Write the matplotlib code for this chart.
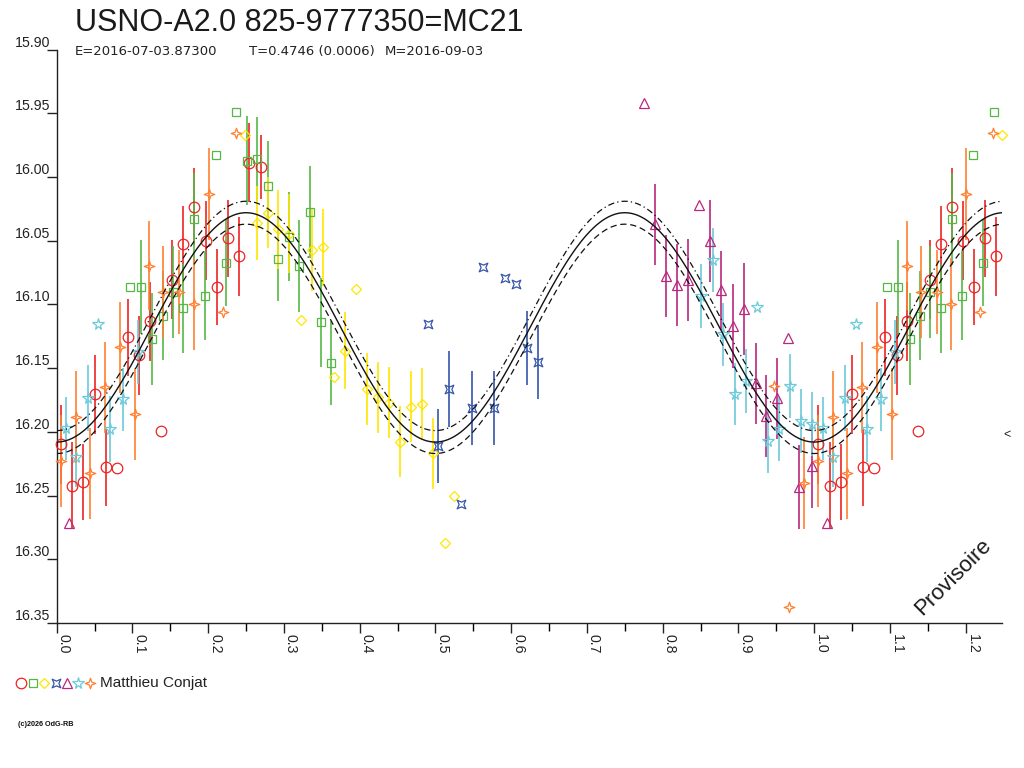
import numpy as np
import matplotlib
matplotlib.use('Agg')
import matplotlib.pyplot as plt
from matplotlib.path import Path
from matplotlib.ticker import MultipleLocator, FixedLocator

plt.rcParams['font.family'] = ['Liberation Sans', 'DejaVu Sans']

title = "USNO-A2.0 825-9777350=MC21"
subtitle_parts = ["E=2016-07-03.87300", "T=0.4746 (0.0006)", "M=2016-09-03"]
observer = "Matthieu Conjat"
watermark = "Provisoire"
copyright_txt = "(c)2026 OdG-RB"

# fitted light-curve model (double wave)
mag_mean = 16.118
amplitude = 0.090
band = 0.009

y_ticks = [15.90, 15.95, 16.00, 16.05, 16.10, 16.15, 16.20, 16.25, 16.30, 16.35]
y_ticklabels = ["15.90", "15.95", "16.00", "16.05", "16.10", "16.15", "16.20", "16.25", "16.30", "16.35"]
x_ticks = [0.0, 0.1, 0.2, 0.3, 0.4, 0.5, 0.6, 0.7, 0.8, 0.9, 1.0, 1.1, 1.2]
x_ticklabels = ["0.0", "0.1", "0.2", "0.3", "0.4", "0.5", "0.6", "0.7", "0.8", "0.9", "1.0", "1.1", "1.2"]

red_phase = [0.0057, 0.0206, 0.0351, 0.0506, 0.0647, 0.0792, 0.0937, 0.1090, 0.1232, 0.1377,
             0.1526, 0.1671, 0.1817, 0.1967, 0.2112, 0.2257, 0.2407, 0.2543, 0.2697]
red_mag = [16.2096, 16.2423, 16.2392, 16.1703, 16.2279, 16.2282, 16.1258, 16.1397, 16.1130, 16.1991,
           16.0808, 16.0528, 16.0233, 16.0500, 16.0861, 16.0481, 16.0620, 15.9888, 15.9924]
red_err = [0.031, 0.034, 0.030, 0.031, 0.030, 0.0, 0.030, 0.031, 0.031, 0.0,
           0.031, 0.030, 0.030, 0.031, 0.030, 0.030, 0.031, 0.031, 0.025]

green_phase = [0.0968, 0.1113, 0.1262, 0.1399, 0.1531, 0.1671, 0.1817, 0.1958, 0.2099, 0.2231,
               0.2371, 0.2508, 0.2648, 0.2785, 0.2925, 0.3071, 0.3203, 0.3344, 0.3489, 0.3621]
green_mag = [16.0861, 16.0861, 16.1270, 16.1089, 16.0905, 16.1031, 16.0327, 16.0932, 15.9830, 16.0673,
             15.9490, 15.9872, 15.9859, 16.0068, 16.0644, 16.0469, 16.0699, 16.0272, 16.1141, 16.1462]
green_err = [0.0, 0.037, 0.036, 0.035, 0.036, 0.035, 0.036, 0.035, 0.0, 0.034,
             0.0, 0.035, 0.033, 0.035, 0.033, 0.035, 0.036, 0.036, 0.035, 0.033]

yellow_phase = [0.2482, 0.2640, 0.2785, 0.2925, 0.3071, 0.3221, 0.3366, 0.3519, 0.3657, 0.3806,
                0.3947, 0.4100, 0.4246, 0.4391, 0.4532, 0.4677, 0.4826, 0.4972, 0.5126, 0.5245]
yellow_mag = [15.9670, 16.0363, 16.0280, 16.0411, 16.0447, 16.1122, 16.0573, 16.0552, 16.1572, 16.1363,
              16.0881, 16.1664, 16.1729, 16.1772, 16.2078, 16.1803, 16.1782, 16.2169, 16.2870, 16.2502]
yellow_err = [0.0, 0.029, 0.028, 0.031, 0.031, 0.0, 0.032, 0.030, 0.0, 0.030,
              0.0, 0.028, 0.028, 0.028, 0.028, 0.028, 0.028, 0.028, 0.0, 0.0]

blue_phase = [0.4898, 0.5038, 0.5183, 0.5337, 0.5486, 0.5628, 0.5777, 0.5922, 0.6067, 0.6212, 0.6358]
blue_mag = [16.1154, 16.2109, 16.1664, 16.2567, 16.1816, 16.0704, 16.1816, 16.0790, 16.0842, 16.1345, 16.1454]
blue_err = [0.0, 0.029, 0.030, 0.0, 0.029, 0.0, 0.029, 0.0, 0.0, 0.029, 0.029]

purple_phase = [0.0166, 0.7757, 0.7902, 0.8048, 0.8193, 0.8338, 0.8483, 0.8628, 0.8774, 0.8932,
                0.9077, 0.9228, 0.9368, 0.9513, 0.9658, 0.9803, 0.9975]
purple_mag = [16.2713, 15.9417, 16.0371, 16.0777, 16.0848, 16.0808, 16.0220, 16.0502, 16.0887, 16.1170,
              16.1036, 16.1619, 16.1874, 16.1737, 16.1266, 16.2436, 16.2268]
purple_err = [0.0, 0.0, 0.032, 0.032, 0.032, 0.032, 0.0, 0.032, 0.031, 0.033,
              0.036, 0.032, 0.032, 0.032, 0.0, 0.033, 0.033]

cyan_phase = [0.0119, 0.0255, 0.0409, 0.0549, 0.0704, 0.0879, 0.1069, 0.8510, 0.8660, 0.8800,
              0.8954, 0.9096, 0.9241, 0.9386, 0.9539, 0.9681, 0.9826, 0.9975]
cyan_mag = [16.1973, 16.2195, 16.1737, 16.1156, 16.1980, 16.1745, 16.1376, 16.0932, 16.0652, 16.1235,
            16.1703, 16.1599, 16.1018, 16.2070, 16.1978, 16.1641, 16.1913, 16.1939]
cyan_err = [0.025, 0.024, 0.026, 0.0, 0.026, 0.025, 0.025, 0.025, 0.025, 0.025,
            0.024, 0.025, 0.0, 0.025, 0.025, 0.025, 0.025, 0.025]

orange_phase = [0.0053, 0.0251, 0.0440, 0.0638, 0.0836, 0.1034, 0.1222, 0.1407, 0.1618, 0.1813,
                0.2011, 0.2191, 0.2363, 0.9473, 0.9667, 0.9869]
orange_mag = [16.2227, 16.1886, 16.2326, 16.1651, 16.1337, 16.1860, 16.0696, 16.0905, 16.0900, 16.0999,
              16.0133, 16.1057, 15.9652, 16.1641, 16.3378, 16.2404]
orange_err = [0.036, 0.036, 0.036, 0.036, 0.036, 0.036, 0.035, 0.036, 0.033, 0.036,
              0.036, 0.0, 0.0, 0.0, 0.0, 0.036]

# marker shapes
sq4 = Path([(-1, -1), (0, -0.55), (1, -1), (0.55, 0), (1, 1), (0, 0.55), (-1, 1), (-0.55, 0), (-1, -1)],
           [Path.MOVETO] + [Path.LINETO] * 7 + [Path.CLOSEPOLY])
star4 = Path([(0, 1), (0.25, 0.25), (1, 0), (0.25, -0.25), (0, -1), (-0.25, -0.25), (-1, 0), (-0.25, 0.25), (0, 1)],
             [Path.MOVETO] + [Path.LINETO] * 7 + [Path.CLOSEPOLY])

series = [
    (red_phase, red_mag, red_err, '#EE2222', 'o', 7.6),
    (green_phase, green_mag, green_err, '#55B845', 's', 5.5),
    (yellow_phase, yellow_mag, yellow_err, '#FFE600', 'D', 5.4),
    (blue_phase, blue_mag, blue_err, '#3555A8', sq4, 6.2),
    (purple_phase, purple_mag, purple_err, '#B8287E', '^', 7.0),
    (cyan_phase, cyan_mag, cyan_err, '#6CCADA', '*', 8.4),
    (orange_phase, orange_mag, orange_err, '#FF8030', star4, 7.6),
]

XMAX = 1.248
fig = plt.figure(figsize=(10.24, 7.68), dpi=100)
ax = fig.add_axes([56.7 / 1024, 1 - 623 / 768, (1002 - 56.7) / 1024, (623 - 49.6) / 768])
ax.set_xlim(0, XMAX)
ax.set_ylim(16.35, 15.90)

for ph, mg, er, col, mk, ms in series:
    ph = np.array(ph); mg = np.array(mg); er = np.array(er)
    sel = ph + 1 <= XMAX + 0.001
    xs = np.concatenate([ph, ph[sel] + 1])
    ys = np.concatenate([mg, mg[sel]])
    es = np.concatenate([er, er[sel]])
    ax.errorbar(xs, ys, yerr=es, fmt='none', ecolor=col, elinewidth=1.2, capsize=0, zorder=2, clip_on=False)
    ax.plot(xs, ys, linestyle='none', marker=mk, ms=ms, mfc='none', mec=col, mew=0.9, zorder=3, clip_on=False)

phase_grid = np.linspace(0, XMAX, 600)
model = mag_mean + amplitude * np.cos(4 * np.pi * phase_grid)
ax.plot(phase_grid, model, color='#111111', lw=1.0, zorder=4)
ax.plot(phase_grid, model - band, color='#111111', lw=0.9, dashes=(5, 2.5, 1, 2.5), zorder=4)
ax.plot(phase_grid, model + band, color='#111111', lw=0.9, dashes=(5, 3), zorder=4)

for s in ['top', 'right']:
    ax.spines[s].set_visible(False)
for s in ['left', 'bottom']:
    ax.spines[s].set_color('#222222')
    ax.spines[s].set_linewidth(1.0)

ax.yaxis.set_major_locator(FixedLocator(y_ticks))
ax.set_yticklabels(y_ticklabels)
ax.xaxis.set_major_locator(FixedLocator(x_ticks))
ax.set_xticklabels(x_ticklabels)
ax.xaxis.set_minor_locator(MultipleLocator(0.05))
ax.tick_params(axis='y', direction='out', length=7.2, width=1.0, pad=-2.5, labelsize=10.2,
               colors='#222222')
ax.tick_params(axis='x', which='major', direction='out', length=7.2, width=1.0, pad=1.0,
               labelsize=10.2, colors='#222222')
ax.tick_params(axis='x', which='minor', direction='out', length=6, width=1.0)
for lb in ax.get_yticklabels():
    lb.set_va('bottom')
for lb in ax.get_xticklabels():
    lb.set_rotation(-90)
    lb.set_ha('left')
    lb.set_va('top')

# texts
fig.text(75 / 1024, 1 - 31 / 768, title, fontsize=22, color='#1a1a1a', va='baseline', ha='left')
for txt, px in zip(subtitle_parts, [75, 249, 385]):
    fig.text(px / 1024, 1 - 55 / 768, txt, fontsize=9.5, family='DejaVu Sans', color='#222222',
             va='baseline', ha='left')
fig.text(953 / 1024, 1 - 577 / 768, watermark, fontsize=16, color='#1a1a1a', rotation=45,
         ha='center', va='center')
fig.text(1007 / 1024, 1 - 435 / 768, '<', fontsize=9, color='#222222', ha='center', va='center')
fig.text(18 / 1024, 1 - 725 / 768, copyright_txt, fontsize=5.2, color='#111111', ha='left',
         va='center', weight='bold')

# legend row (overlay in pixel coordinates)
ov = fig.add_axes([0, 0, 1, 1], zorder=10)
ov.set_xlim(0, 1024)
ov.set_ylim(768, 0)
ov.axis('off')
leg_x = [20.7, 32.7, 43.8, 55.7, 66.7, 78.3, 90.0]
for (ph, mg, er, col, mk, ms), lx in zip(series, leg_x):
    ov.plot([lx], [683], linestyle='none', marker=mk, ms=ms, mfc='none', mec=col, mew=0.9)
ov.text(100, 683, observer, fontsize=11, color='#222222', ha='left', va='center')

fig.savefig('out.png', dpi=100)
